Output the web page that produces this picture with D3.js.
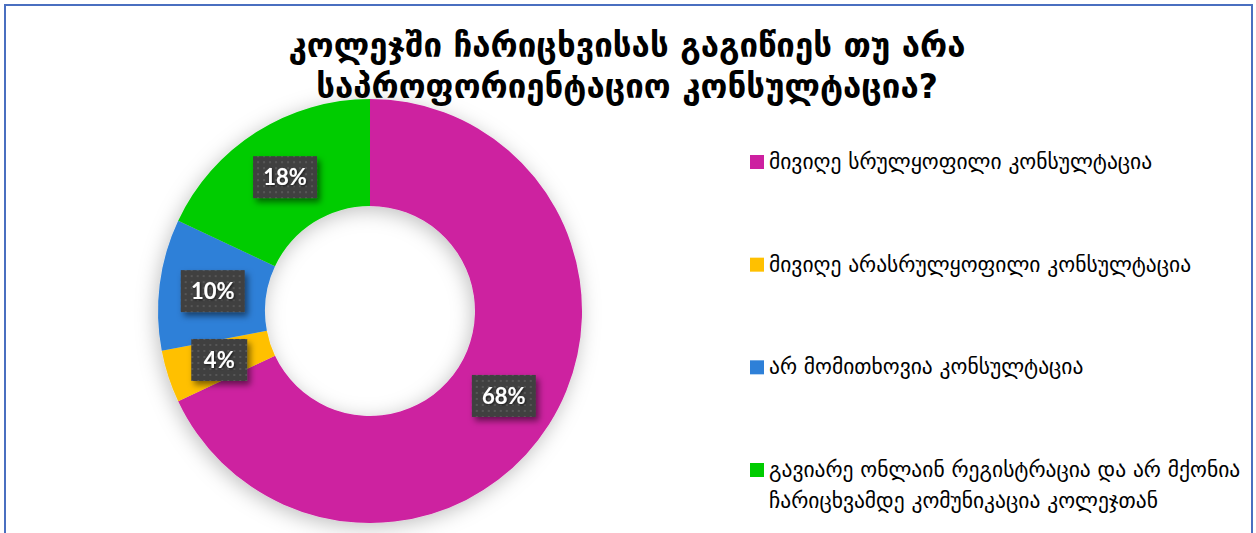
<!DOCTYPE html>
<html>
<head>
<meta charset="utf-8">
<script src="https://cdn.jsdelivr.net/npm/d3@7"></script>
<style>
  html, body { margin: 0; padding: 0; background: #fff; }
  svg { display: block; font-family: "DejaVu Sans", sans-serif; }
</style>
</head>
<body>
<svg id="chart" width="1256" height="533"></svg>
<script>
// chart data
const titleLines = ['კოლეჯში ჩარიცხვისას გაგიწიეს თუ არა', 'საპროფორიენტაციო კონსულტაცია?'];
const categories = [
  'მივიღე სრულყოფილი კონსულტაცია',
  'მივიღე არასრულყოფილი კონსულტაცია',
  'არ მომითხოვია კონსულტაცია',
  'გავიარე ონლაინ რეგისტრაცია და არ მქონია|ჩარიცხვამდე კომუნიკაცია კოლეჯთან'
];
const values = [68, 4, 10, 18];
const colors = ['#CD20A0', '#FFC000', '#2E80D8', '#00CC00'];

const width = 1256,
  height = 533,
  cx = 370,
  cy = 311,
  outerR = 212,
  innerR = 105;

const svg = d3.select('#chart');
const defs = svg.append('defs');

// soft shadow around the ring
const ringShadow = defs.append('filter').attr('id', 'ringShadow')
  .attr('x', '-20%').attr('y', '-20%').attr('width', '140%').attr('height', '140%');
ringShadow.append('feDropShadow')
  .attr('dx', -2).attr('dy', 4).attr('stdDeviation', 10)
  .attr('flood-color', '#000').attr('flood-opacity', 0.25);

const boxShadow = defs.append('filter').attr('id', 'boxShadow')
  .attr('x', '-30%').attr('y', '-30%').attr('width', '170%').attr('height', '170%');
boxShadow.append('feDropShadow')
  .attr('dx', 3).attr('dy', 4).attr('stdDeviation', 3)
  .attr('flood-color', '#000').attr('flood-opacity', 0.5);

const textShadow = defs.append('filter').attr('id', 'textShadow')
  .attr('x', '-20%').attr('y', '-20%').attr('width', '140%').attr('height', '140%');
textShadow.append('feDropShadow')
  .attr('dx', 1).attr('dy', 1).attr('stdDeviation', 1)
  .attr('flood-color', '#000').attr('flood-opacity', 0.6);

// dotted label background
const pat = defs.append('pattern').attr('id', 'dots')
  .attr('patternUnits', 'userSpaceOnUse').attr('width', 6).attr('height', 6);
pat.append('rect').attr('width', 6).attr('height', 6).attr('fill', '#404040');
pat.append('rect').attr('x', 2).attr('y', 2).attr('width', 2).attr('height', 2).attr('fill', '#565656');

// frame
svg.append('rect')
  .attr('x', 5).attr('y', 5)
  .attr('width', width - 9).attr('height', height + 10)
  .attr('fill', 'none')
  .attr('stroke', '#4A6FC0')
  .attr('stroke-width', 2);

// title
svg.append('text')
  .attr('x', 627).attr('y', 57)
  .attr('text-anchor', 'middle')
  .style('font-size', '33px')
  .style('font-weight', 'bold')
  .attr('fill', '#000')
  .selectAll('tspan')
  .data(titleLines)
  .join('tspan')
  .attr('x', 627)
  .attr('dy', (d, i) => i === 0 ? 0 : 41)
  .text(d => d);

// donut
const pie = d3.pie().sort(null).value(d => d)(values);
const arc = d3.arc().innerRadius(innerR).outerRadius(outerR);

const g = svg.append('g').attr('transform', 'translate(' + cx + ',' + cy + ')');

g.append('g')
  .attr('filter', 'url(#ringShadow)')
  .selectAll('path')
  .data(pie)
  .join('path')
  .attr('d', arc)
  .attr('fill', (d, i) => colors[i]);

// data labels
const fmt = d => d + '%';
const labels = g.selectAll('g.lbl')
  .data(pie)
  .join('g')
  .attr('class', 'lbl')
  .attr('transform', d => 'translate(' + arc.centroid(d) + ')');

labels.each(function (d) {
  const sel = d3.select(this);
  const w = fmt(d.value).length > 2 ? 64 : 56;
  sel.append('rect')
    .attr('x', -w / 2).attr('y', -21)
    .attr('width', w).attr('height', 42)
    .attr('fill', 'url(#dots)')
    .attr('filter', 'url(#boxShadow)');
  sel.append('text')
    .attr('text-anchor', 'middle')
    .attr('dy', '0.36em')
    .attr('fill', '#fff')
    .attr('filter', 'url(#textShadow)')
    .style('font-family', 'Lato, "Open Sans", sans-serif')
    .style('font-weight', 'bold')
    .style('font-size', '22px')
    .text(fmt(d.value));
});

// legend
const legendY = d3.scalePoint().domain(d3.range(categories.length)).range([162, 470]);
const legend = svg.append('g')
  .selectAll('g')
  .data(categories)
  .join('g')
  .attr('transform', (d, i) => 'translate(750,' + legendY(i) + ')');

legend.append('rect')
  .attr('x', 0).attr('y', -7)
  .attr('width', 14).attr('height', 14)
  .attr('fill', (d, i) => colors[i]);

legend.append('text')
  .attr('fill', '#000')
  .style('font-size', '21.5px')
  .selectAll('tspan')
  .data(d => d.split('|'))
  .join('tspan')
  .attr('x', 19)
  .attr('y', (d, i) => 7 + i * 31)
  .text(d => d);
</script>
</body>
</html>
